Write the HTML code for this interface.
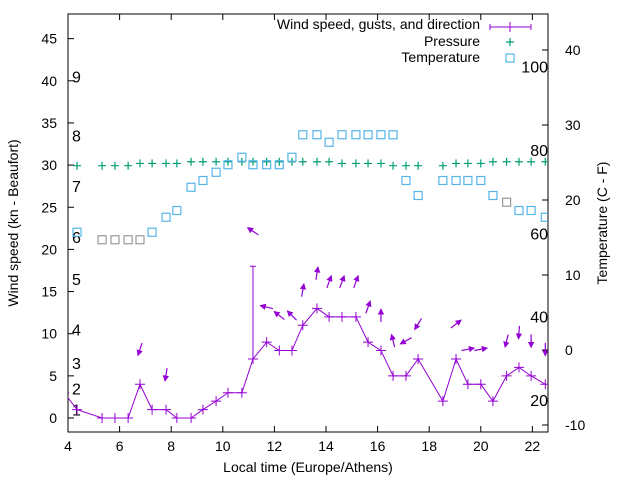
<!DOCTYPE html>
<html><head><meta charset="utf-8"><style>
html,body{margin:0;padding:0;background:#fff;}
svg{display:block;font-family:"Liberation Sans",sans-serif;}
</style></head><body>
<svg id="chart" width="640" height="480" viewBox="0 0 640 480">
<g id="grid"></g>
</svg>
<script>
const times = [3.85,4.35,5.32,5.82,6.33,6.79,7.26,7.8,8.22,8.77,9.23,9.74,10.2,10.74,11.17,11.7,12.19,12.68,13.1,13.65,14.12,14.62,15.16,15.63,16.13,16.6,17.1,17.57,18.53,19.04,19.5,20.0,20.47,21.0,21.48,21.95,22.5];
const windSpeed = [3,1,0,0,0,4,1,1,0,0,1,2,3,3,7,9,8,8,11,13,12,12,12,9,8,5,5,7,2,7,4,4,2,5,6,5,4];
const windGust = [null,null,null,null,null,null,null,null,null,null,null,null,null,null,18,null,null,null,null,null,null,null,null,null,null,null,null,null,null,null,null,null,null,null,null,null,null];
const windDir = [null,null,null,null,null,198,null,189,null,null,null,null,null,null,304,284,308,315,10,9,20,20,20,20,0,346,241,212,null,52,79,79,null,194,184,180,180];
const pressure = [null,29.93,29.93,29.93,29.93,30.2,30.2,30.2,30.2,30.4,30.4,30.4,30.4,30.4,30.4,30.4,30.4,30.4,30.4,30.4,30.4,30.2,30.2,30.2,30.2,29.93,29.93,29.93,29.93,30.2,30.2,30.2,30.4,30.4,30.4,30.4,30.4];
const temperature = [null,15.7,14.7,14.7,14.7,14.7,15.7,17.7,18.6,21.7,22.6,23.7,24.7,25.7,24.7,24.7,24.7,25.7,28.7,28.7,27.7,28.7,28.7,28.7,28.7,28.7,22.6,20.6,22.6,22.6,22.6,22.6,20.6,19.7,18.6,18.6,17.7];
const tempGray = [0,0,1,1,1,1,0,0,0,0,0,0,0,0,0,0,0,0,0,0,0,0,0,0,0,0,0,0,0,0,0,0,0,1,0,0,0];
const xTicks = [4,6,8,10,12,14,16,18,20,22];
const yTicks = [0,5,10,15,20,25,30,35,40,45];
const y2Ticks = [-10,0,10,20,30,40];
const beaufortLabels = ["1","2","3","4","5","6","7","8","9"];
const beaufortKn = [1,3.5,6.5,10.5,16.5,21.5,27.5,33.5,40.5];
const fahrenheitLabels = [20,40,60,80,100];

const L=68,R=548,T=14,B=432;
const X=t=>L+(t-4)*25.8;
const Y=v=>418-v*8.43;
const Y2=c=>350-c*7.5;
const svg=document.getElementById('chart');
const NS='http://www.w3.org/2000/svg';
function mk(tag,attrs,parent){const e=document.createElementNS(NS,tag);for(const k in attrs)e.setAttribute(k,attrs[k]);(parent||svg).appendChild(e);return e;}
function txt(s,x,y,anchor,parent,size){const e=mk('text',{x:x,y:y,'text-anchor':anchor||'start','font-size':size||14,fill:'#000'},parent);e.textContent=s;return e;}

const defs=mk('defs',{});const cp=mk('clipPath',{id:'pc'},defs);mk('rect',{x:L,y:T,width:R-L,height:B-T},cp);

const axes=mk('g',{});


xTicks.forEach(t=>{const x=X(t);mk('line',{x1:x,y1:B,x2:x,y2:B-6,stroke:'#000'},axes);mk('line',{x1:x,y1:T,x2:x,y2:T+6,stroke:'#000'},axes);
 const l=txt(String(t),x,451,'middle',axes);});
yTicks.forEach(v=>{const y=Y(v);mk('line',{x1:L,y1:y,x2:L+6,y2:y,stroke:'#000'},axes);
 const l=txt(String(v),57,y+5,'end',axes);});
y2Ticks.forEach(v=>{const y=Y2(v);mk('line',{x1:R,y1:y,x2:R-6,y2:y,stroke:'#000'},axes);
 const l=txt(String(v),565,y+5,'start',axes);});
beaufortLabels.forEach((s,i)=>{const l=txt(s,72,Y(beaufortKn[i])+6,'start',axes,16);});
fahrenheitLabels.forEach(f=>{const l=txt(String(f),548,Y2((f-32)*5/9)+6,'end',axes,16);});
const border=mk('rect',{x:L,y:T,width:R-L,height:B-T,fill:'none',stroke:'#000'},axes);


const xt=txt('Local time (Europe/Athens)',308,472,'middle');


const yt=txt('Wind speed (kn - Beaufort)',0,0,'middle');yt.setAttribute('transform','translate(18,223) rotate(-90)');


const y2t=txt('Temperature (C - F)',0,0,'middle');y2t.setAttribute('transform','translate(607,223) rotate(-90)');



const P='#9400d3',G='#009e73',C='#56b4e9';
const plot=mk('g',{'clip-path':'url(#pc)'});
let d='';times.forEach((t,i)=>{d+=(i?'L':'M')+X(t)+' '+Y(windSpeed[i]);});
const wl=mk('path',{d:d,fill:'none',stroke:P,'stroke-width':1},plot);


times.forEach((t,i)=>{const x=X(t),y=Y(windSpeed[i]);
 const g=mk('path',{d:`M${x-5} ${y}H${x+5}M${x} ${y-5}V${y+5}`,stroke:P,'stroke-width':1},plot);
 
 
 if(windGust[i]!=null){const yg=Y(windGust[i]);
  const e=mk('path',{d:`M${x} ${y}V${yg}M${x-3} ${yg}H${x+3}`,stroke:P,'stroke-width':1},plot);
  
  }
 if(windDir[i]!=null){const top=Math.max(windSpeed[i],windGust[i]||0);const cy=Y(top)-35;const a=windDir[i]*Math.PI/180;
  const dx=Math.sin(a)*6.5,dy=-Math.cos(a)*6.5;const hx=x+dx,hy=cy+dy;
  const ux=dx/6.5,uy=dy/6.5;const bx=hx-ux*5,by=hy-uy*5;
  const ar=mk('g',{},plot);
  
  
  mk('line',{x1:x-dx,y1:cy-dy,x2:hx,y2:hy,stroke:P,'stroke-width':1.2},ar);
  mk('path',{d:`M${hx} ${hy}L${bx-uy*2.5} ${by+ux*2.5}L${bx+uy*2.5} ${by-ux*2.5}Z`,fill:P,stroke:P,'stroke-width':0.8},ar);}
});
times.forEach((t,i)=>{if(pressure[i]==null)return;const x=X(t),y=Y(pressure[i]);
 const p=mk('path',{d:`M${x-4} ${y}H${x+4}M${x} ${y-4}V${y+4}`,stroke:G,'stroke-width':1.2},plot);
 
 });
times.forEach((t,i)=>{if(temperature[i]==null)return;const x=X(t),y=Y2(temperature[i]);
 const r=mk('rect',{x:x-4,y:y-4,width:8,height:8,fill:'none',stroke:tempGray[i]?'#999':C,'stroke-width':1.2},plot);
 
 });

const lg=mk('g',{});


const l1=txt('Wind speed, gusts, and direction',480,29,'end',lg);
mk('path',{d:'M490 27H531M490 24V30M531 24V30M510 22V32',stroke:P,'stroke-width':1},lg);
const l2=txt('Pressure',480,46,'end',lg);
mk('path',{d:'M506 42H514M510 38V46',stroke:G,'stroke-width':1.2},lg);
const l3=txt('Temperature',480,62,'end',lg);
mk('rect',{x:506,y:54,width:8,height:8,fill:'none',stroke:C,'stroke-width':1.2},lg);
</script>
</body></html>
